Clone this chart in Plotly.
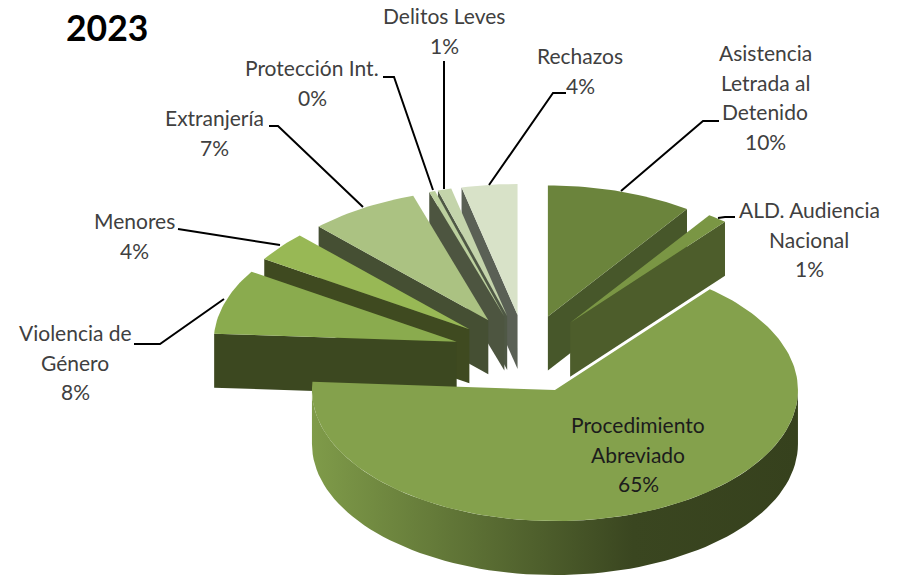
import math
import plotly.graph_objects as go

TITLE = "2023"
categories = ["Asistencia Letrada al Detenido", "ALD. Audiencia Nacional", "Procedimiento Abreviado",
              "Violencia de Género", "Menores", "Extranjería", "Protección Int.", "Delitos Leves", "Rechazos"]
values = [9.7, 1.3, 65.0, 8.0, 3.7, 7.3, 0.4, 0.9, 3.7]
percent_labels = ["10%", "1%", "65%", "8%", "4%", "7%", "0%", "1%", "4%"]

# Style
top_colors = ["#6b843c", "#7a9644", "#84a14c", "#8aab4e", "#98b855", "#abc282", "#bcd09e", "#c4d4ab", "#d8e2c8"]
wall_colors = ["#47572a", "#4d5d2b", "#39451f", "#3c4820", "#3f4a20", "#454f33", "#4d5540", "#4f5845", "#5a6055"]
RIM_SCALE = [[0, "#7f9b49"], [0.66, "#3a4620"], [1, "#36411d"]]

# Layout geometry of the pie projection
CX, CY, RX, RY, EXPLODE, DEPTH = 526, 354, 243, 131, 0.30, 54
DRAW_ORDER = [8, 7, 6, 5, 4, 3, 0, 1, 2]

label_lines = [["Asistencia", "Letrada al", "Detenido"], ["ALD. Audiencia", "Nacional"], ["Procedimiento", "Abreviado"],
               ["Violencia de", "Género"], ["Menores"], ["Extranjería"], ["Protección Int."], ["Delitos Leves"], ["Rechazos"]]
label_pos = [(765, 52.5), (809, 209.5), (638, 424.5), (75, 332.5), (134, 220.5), (214, 117.5), (312, 67.5), (444, 15.5), (580, 55.5)]
LINE_STEP = 29.6
leaders = [
    [(621, 191), (703, 121), (719, 121)],
    [(718, 218), (725, 217), (735, 217)],
    [],
    [(134, 344), (160, 344), (224, 299)],
    [(178, 229), (280, 245)],
    [(269, 126), (278, 126), (363, 207)],
    [(383, 77), (394, 77), (433, 190)],
    [(444, 61), (444, 189)],
    [(566, 93), (553, 93), (489, 185)],
]

total = sum(values)
fig = go.Figure()


def poly(xs, ys, **kw):
    fig.add_trace(go.Scatter(x=xs, y=ys, mode="lines", fill="toself", line=dict(width=0),
                             hoverinfo="skip", showlegend=False, **kw))


def rim(ax, ay, a):
    return ax + RX * math.sin(a), ay - RY * math.cos(a)


cum = 0
spans = []
for v in values:
    spans.append((cum / total * 2 * math.pi, (cum + v) / total * 2 * math.pi))
    cum += v

for i in DRAW_ORDER:
    a0, a1 = spans[i]
    mid = (a0 + a1) / 2
    ax = CX + RX * EXPLODE * math.sin(mid)
    ay = CY - RY * EXPLODE * math.cos(mid)
    # radial walls
    for edge, visible in ((a0, math.pi < a0 < 2 * math.pi), (a1, 0 < a1 < math.pi)):
        if visible:
            ex, ey = rim(ax, ay, edge)
            poly([ax, ex, ex, ax, ax], [ay, ey, ey + DEPTH, ay + DEPTH, ay], fillcolor=wall_colors[i])
    # outer wall on the viewer side
    lo, hi = max(a0, math.pi / 2), min(a1, 3 * math.pi / 2)
    if lo < hi:
        n = 80
        pts = [rim(ax, ay, lo + (hi - lo) * k / n) for k in range(n + 1)]
        xs = [p[0] for p in pts] + [p[0] for p in reversed(pts)] + [pts[0][0]]
        ys = [p[1] for p in pts] + [p[1] + DEPTH for p in reversed(pts)] + [pts[0][1]]
        poly(xs, ys, fillgradient=dict(type="horizontal", colorscale=RIM_SCALE))
    # top face
    n = max(4, int((a1 - a0) * 40))
    pts = [rim(ax, ay, a0 + (a1 - a0) * k / n) for k in range(n + 1)]
    poly([ax] + [p[0] for p in pts] + [ax], [ay] + [p[1] for p in pts] + [ay], fillcolor=top_colors[i])

for path in leaders:
    if path:
        fig.add_trace(go.Scatter(x=[p[0] for p in path], y=[p[1] for p in path], mode="lines",
                                 line=dict(color="#000000", width=2), hoverinfo="skip", showlegend=False))

for i, lines in enumerate(label_lines):
    x0, y0 = label_pos[i]
    color = "#1c1c1c" if i == 2 else "#404040"
    for k, txt in enumerate(lines + [percent_labels[i]]):
        fig.add_annotation(x=x0, y=y0 + k * LINE_STEP, text=txt, showarrow=False, xanchor="center", yanchor="middle",
                           font=dict(family="Lato", size=21, color=color))

fig.add_annotation(x=107, y=27, text=f"<b>{TITLE}</b>", showarrow=False, xanchor="center", yanchor="middle",
                   font=dict(family="Lato", size=35.5, color="#000000"))

fig.update_layout(
    width=897, height=577, margin=dict(l=0, r=0, t=0, b=0), paper_bgcolor="white", plot_bgcolor="white",
    xaxis=dict(range=[0, 897], visible=False, fixedrange=True),
    yaxis=dict(range=[577, 0], visible=False, fixedrange=True),
    showlegend=False,
)
fig.write_html("out.html", config=dict(displayModeBar=False),
               post_script="document.body.style.margin='0';document.documentElement.style.overflow='hidden';")
